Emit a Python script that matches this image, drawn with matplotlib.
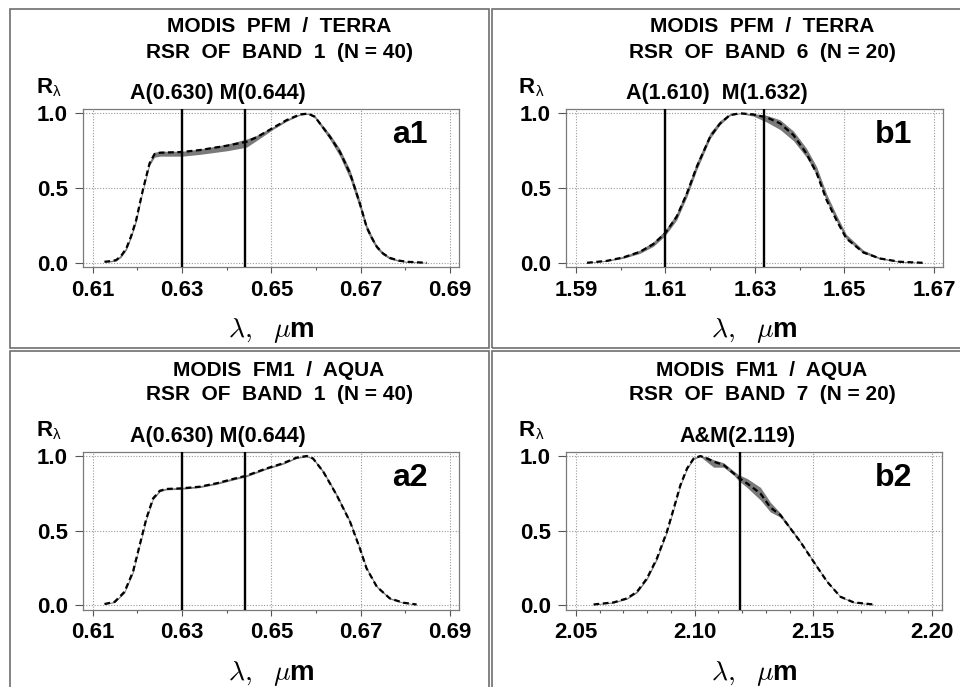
import matplotlib
matplotlib.use("Agg")
import matplotlib.pyplot as plt
from matplotlib.patches import Rectangle
from matplotlib.ticker import MultipleLocator
from matplotlib.transforms import offset_copy

plt.rcParams["font.family"] = ["Liberation Sans", "DejaVu Sans"]
plt.rcParams["mathtext.fontset"] = "cm"

# --- panel a1: MODIS PFM / Terra, band 1 ---
wl_a1 = [0.6126, 0.6140, 0.6152, 0.6163, 0.6175, 0.6186, 0.6197, 0.6212, 0.6227, 0.6238,
         0.6250, 0.6300, 0.6340, 0.6400, 0.6444, 0.6466, 0.6504, 0.6534, 0.6564, 0.6582,
         0.6597, 0.6631, 0.6653, 0.6676, 0.6698, 0.6713, 0.6725, 0.6736, 0.6750, 0.6765,
         0.6785, 0.6803, 0.6848]
mean_a1 = [0.007, 0.011, 0.018, 0.045, 0.096, 0.180, 0.285, 0.486, 0.664, 0.726,
           0.735, 0.740, 0.753, 0.782, 0.808, 0.837, 0.902, 0.953, 0.991, 0.996,
           0.976, 0.842, 0.742, 0.597, 0.396, 0.240, 0.165, 0.107, 0.062, 0.033,
           0.015, 0.007, 0.000]
lo_a1 = [0.003, 0.007, 0.012, 0.036, 0.085, 0.168, 0.270, 0.475, 0.650, 0.705,
         0.712, 0.712, 0.724, 0.748, 0.772, 0.815, 0.892, 0.945, 0.986, 0.992,
         0.966, 0.822, 0.712, 0.560, 0.362, 0.215, 0.145, 0.092, 0.052, 0.025,
         0.010, 0.003, 0.000]
hi_a1 = [0.010, 0.015, 0.024, 0.054, 0.106, 0.192, 0.300, 0.498, 0.676, 0.738,
         0.745, 0.745, 0.760, 0.792, 0.826, 0.850, 0.910, 0.960, 0.995, 1.000,
         0.984, 0.858, 0.762, 0.620, 0.415, 0.255, 0.180, 0.117, 0.071, 0.040,
         0.019, 0.010, 0.003]

# --- panel b1: MODIS PFM / Terra, band 6 ---
wl_b1 = [1.5925, 1.5969, 1.6006, 1.6043, 1.6073, 1.6099, 1.6125, 1.6148, 1.6170, 1.6200,
         1.6222, 1.6244, 1.6267, 1.6296, 1.6326, 1.6356, 1.6386, 1.6415, 1.6438, 1.6460,
         1.6482, 1.6504, 1.6542, 1.6579, 1.6623, 1.6675]
mean_b1 = [0.000, 0.013, 0.036, 0.073, 0.125, 0.196, 0.307, 0.463, 0.641, 0.842,
           0.930, 0.987, 0.998, 0.991, 0.971, 0.931, 0.853, 0.730, 0.597, 0.419,
           0.285, 0.163, 0.069, 0.029, 0.007, 0.000]
lo_b1 = [0.000, 0.010, 0.030, 0.063, 0.110, 0.180, 0.285, 0.440, 0.620, 0.830,
         0.922, 0.982, 0.996, 0.980, 0.940, 0.890, 0.815, 0.705, 0.585, 0.410,
         0.278, 0.158, 0.064, 0.025, 0.004, 0.000]
hi_b1 = [0.003, 0.017, 0.044, 0.085, 0.140, 0.215, 0.330, 0.490, 0.670, 0.870,
         0.950, 0.996, 1.000, 0.996, 0.985, 0.955, 0.880, 0.765, 0.640, 0.460,
         0.320, 0.190, 0.085, 0.036, 0.011, 0.002]

# --- panel a2: MODIS FM1 / Aqua, band 1 ---
wl_a2 = [0.6126, 0.6149, 0.6171, 0.6190, 0.6205, 0.6220, 0.6235, 0.6250, 0.6264, 0.6298,
         0.6339, 0.6377, 0.6414, 0.6444, 0.6489, 0.6526, 0.6556, 0.6579, 0.6593, 0.6616,
         0.6646, 0.6676, 0.6698, 0.6713, 0.6736, 0.6765, 0.6795, 0.6825]
mean_a2 = [0.007, 0.022, 0.089, 0.224, 0.403, 0.582, 0.716, 0.767, 0.779, 0.783,
           0.794, 0.817, 0.846, 0.868, 0.917, 0.951, 0.989, 1.000, 0.984, 0.895,
           0.738, 0.559, 0.380, 0.246, 0.123, 0.045, 0.016, 0.004]
lo_a2 = [0.004, 0.017, 0.081, 0.214, 0.393, 0.572, 0.707, 0.760, 0.773, 0.777,
         0.788, 0.810, 0.839, 0.861, 0.911, 0.945, 0.984, 0.995, 0.977, 0.886,
         0.728, 0.549, 0.371, 0.238, 0.117, 0.040, 0.013, 0.002]
hi_a2 = [0.009, 0.026, 0.096, 0.233, 0.412, 0.591, 0.724, 0.773, 0.785, 0.789,
         0.800, 0.823, 0.853, 0.875, 0.923, 0.957, 0.994, 1.000, 0.990, 0.903,
         0.747, 0.568, 0.389, 0.254, 0.129, 0.050, 0.019, 0.006]

# --- panel b2: MODIS FM1 / Aqua, band 7 ---
wl_b2 = [2.0574, 2.0659, 2.0715, 2.0757, 2.0799, 2.0841, 2.0883, 2.0912, 2.0940, 2.0968,
         2.0996, 2.1024, 2.1052, 2.1080, 2.1122, 2.1164, 2.1185, 2.1220, 2.1277, 2.1319,
         2.1361, 2.1403, 2.1445, 2.1501, 2.1558, 2.1614, 2.1670, 2.1754]
mean_b2 = [0.004, 0.018, 0.045, 0.089, 0.179, 0.313, 0.492, 0.649, 0.805, 0.917,
           0.984, 1.000, 0.984, 0.962, 0.940, 0.884, 0.855, 0.817, 0.749, 0.655,
           0.604, 0.515, 0.425, 0.291, 0.157, 0.056, 0.018, 0.004]
lo_b2 = [0.002, 0.014, 0.040, 0.082, 0.170, 0.303, 0.482, 0.640, 0.797, 0.910,
         0.978, 0.996, 0.960, 0.925, 0.925, 0.872, 0.835, 0.790, 0.705, 0.625,
         0.590, 0.505, 0.418, 0.285, 0.152, 0.052, 0.015, 0.002]
hi_b2 = [0.006, 0.022, 0.050, 0.096, 0.188, 0.323, 0.502, 0.658, 0.813, 0.925,
         0.992, 1.000, 0.995, 0.975, 0.955, 0.900, 0.875, 0.850, 0.790, 0.690,
         0.618, 0.525, 0.432, 0.298, 0.162, 0.060, 0.021, 0.006]

titles = [
    ("MODIS  PFM  /  TERRA", "RSR  OF  BAND  1  (N = 40)"),
    ("MODIS  PFM  /  TERRA", "RSR  OF  BAND  6  (N = 20)"),
    ("MODIS  FM1  /  AQUA", "RSR  OF  BAND  1  (N = 40)"),
    ("MODIS  FM1  /  AQUA", "RSR  OF  BAND  7  (N = 20)"),
]
panel_tags = ["a1", "b1", "a2", "b2"]
line_labels = ["A(0.630) M(0.644)", "A(1.610)  M(1.632)", "A(0.630) M(0.644)", "A&M(2.119)"]
line_positions = [[0.630, 0.644], [1.610, 1.632], [0.630, 0.644], [2.119]]
xticks = [[0.61, 0.63, 0.65, 0.67, 0.69],
          [1.59, 1.61, 1.63, 1.65, 1.67],
          [0.61, 0.63, 0.65, 0.67, 0.69],
          [2.05, 2.10, 2.15, 2.20]]
xticklabels = [["0.61", "0.63", "0.65", "0.67", "0.69"],
               ["1.59", "1.61", "1.63", "1.65", "1.67"],
               ["0.61", "0.63", "0.65", "0.67", "0.69"],
               ["2.05", "2.10", "2.15", "2.20"]]
xlims = [(0.6078, 0.6920), (1.5878, 1.6720), (0.6078, 0.6920), (2.0458, 2.2042)]

W, H = 960, 687
fig = plt.figure(figsize=(W / 100, H / 100), dpi=100)


def fx(px):
    return px / W


def fy(py):
    return 1 - py / H


# panel frames (pixel boxes)
for x0, y0, x1, y1 in [(10, 9, 489, 348), (492, 9, 970, 348),
                       (10, 351, 489, 700), (492, 351, 970, 700)]:
    fig.patches.append(Rectangle((fx(x0), fy(y1)), fx(x1 - x0), (y1 - y0) / H,
                                 transform=fig.transFigure, fill=False,
                                 edgecolor="#6e6e6e", linewidth=1.2))

ax_boxes = [(83, 109, 459, 267), (566, 109, 943, 267),
            (83, 452, 459, 610), (566, 452, 942, 610)]
title_centers = [(279, 27, 52), (762, 27, 52), (279, 370, 395), (762, 370, 395)]
label_x = [0.36, 0.40, 0.36, 0.455]

data = [(wl_a1, mean_a1, lo_a1, hi_a1), (wl_b1, mean_b1, lo_b1, hi_b1),
        (wl_a2, mean_a2, lo_a2, hi_a2), (wl_b2, mean_b2, lo_b2, hi_b2)]

for i, (wl, mean, lo, hi) in enumerate(data):
    x0, y0, x1, y1 = ax_boxes[i]
    ax = fig.add_axes([fx(x0), fy(y1), fx(x1 - x0), (y1 - y0) / H])

    ax.fill_between(wl, lo, hi, color="#7a7a7a", linewidth=0, zorder=2)
    ax.plot(wl, mean, color="black", linewidth=1.6, dashes=(2.6, 1.6), zorder=3)
    for xv in line_positions[i]:
        ax.axvline(xv, color="black", linewidth=1.7, zorder=4)

    ax.set_xlim(*xlims[i])
    ax.set_ylim(-0.028 if i < 2 else -0.033, 1.027)
    ax.set_xticks(xticks[i])
    ax.set_xticklabels(xticklabels[i])
    ax.xaxis.set_minor_locator(MultipleLocator(0.01))
    ax.set_yticks([0.0, 0.5, 1.0])
    ax.set_yticklabels(["0.0", "0.5", "1.0"])
    ax.tick_params(axis="x", which="major", direction="out", length=4, width=0.8,
                   color="#555555", pad=5, labelsize=16)
    ax.tick_params(axis="x", which="minor", direction="out", length=2.5, width=0.8,
                   color="#555555")
    ax.tick_params(axis="y", direction="out", length=6, width=0.8, color="#555555",
                   pad=5, labelsize=16)
    for lab in ax.get_xticklabels() + ax.get_yticklabels():
        lab.set_fontweight("bold")
    ax.grid(True, which="major", linestyle=(0, (1, 1.5)), color="#9a9a9a", linewidth=0.8)
    for sp in ax.spines.values():
        sp.set_color("#7a7a7a")
        sp.set_linewidth(0.9)

    ax.set_xlabel(r"$\lambda,\ \ \mu$m", fontsize=20, fontweight="bold", labelpad=11)

    ax.text(label_x[i], 1.03, line_labels[i], transform=ax.transAxes,
            ha="center", va="bottom", fontsize=15.5, fontweight="bold")
    ax.text(0.87, 0.835, panel_tags[i], transform=ax.transAxes,
            ha="center", va="center", fontsize=23, fontweight="bold")

    # R_lambda label above the y axis
    rx, ry = -0.125, 1.10
    ax.text(rx, ry, "R", transform=ax.transAxes, ha="left", va="baseline",
            fontsize=16, fontweight="bold")
    ax.text(rx, ry, "λ", transform=offset_copy(ax.transAxes, fig=fig, x=12, y=-2, units="points"),
            ha="left", va="baseline", fontsize=11)

    cx, ty1, ty2 = title_centers[i]
    fig.text(fx(cx), fy(ty1), titles[i][0], ha="center", va="center",
             fontsize=15, fontweight="bold")
    fig.text(fx(cx), fy(ty2), titles[i][1], ha="center", va="center",
             fontsize=15, fontweight="bold")

fig.savefig("out.png", dpi=100)
